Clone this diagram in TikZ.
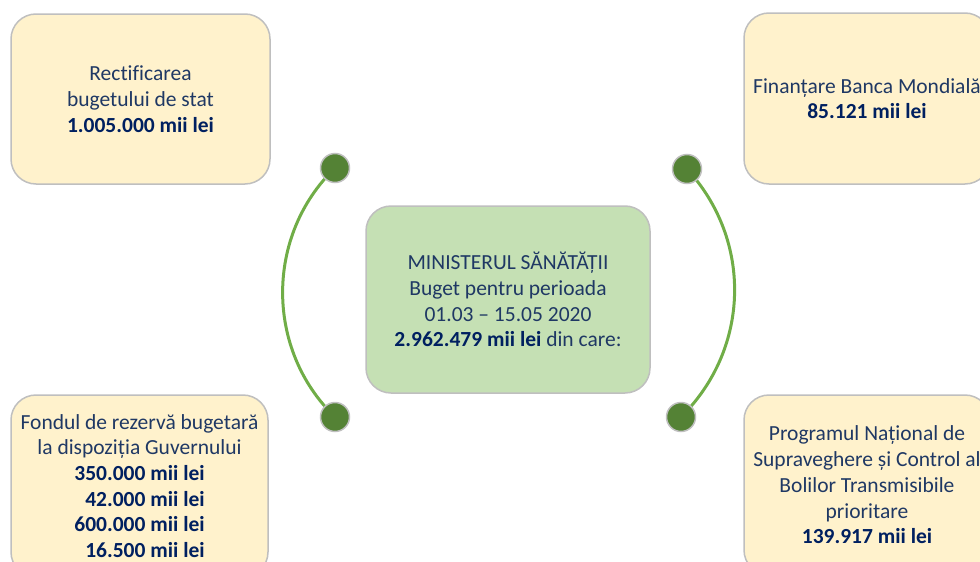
\documentclass[tikz,border=0pt]{standalone}
\usepackage{fontspec}
\setmainfont{Carlito}[Ligatures={NoCommon}]
\usetikzlibrary{backgrounds}
\definecolor{boxfill}{HTML}{FFF2CC}
\definecolor{boxline}{HTML}{BFBFBF}
\definecolor{minfill}{HTML}{C5E0B4}
\definecolor{dotfill}{HTML}{548235}
\definecolor{arcline}{HTML}{70AD47}
\definecolor{txt}{HTML}{1F3864}
\definecolor{num}{HTML}{002060}
\newcommand{\amt}[1]{\textbf{\color{num}#1 mii lei}}
\tikzset{
  item/.style={draw=boxline, line width=1.5pt, fill=boxfill, rounded corners=25pt,
    align=center, text=txt, font=\fontsize{21.5}{25.7}\selectfont, inner sep=0pt},
  dot/.style={circle, draw=boxline, line width=1.5pt, fill=dotfill, minimum size=29pt, inner sep=0pt},
  link/.style={draw=arcline, line width=3pt}
}
\begin{document}
\begin{tikzpicture}[x=1pt,y=1pt]
  \useasboundingbox (0,0) rectangle (980,-562);
  \clip (0,0) rectangle (980,-562);
  % boxes
  \node[item, minimum width=259pt, minimum height=170pt] (rect) at (140.5,-99)
    {Rectificarea\\bugetului de stat\\\amt{1.005.000}};
  \node[item, minimum width=246pt, minimum height=171pt] (banca) at (867,-98.5)
    {Finanțare Banca Mondială\\\amt{85.121}};
  \node[item, fill=minfill, minimum width=284pt, minimum height=187pt] (min) at (508,-299.5)
    {MINISTERUL SĂNĂTĂȚII\\Buget pentru perioada\\01.03 – 15.05 2020\\\amt{2.962.479} din care:};
  \node[item, minimum width=257pt, minimum height=182pt] (fond) at (139.5,-486)
    {Fondul de rezervă bugetară\\la dispoziția Guvernului\\\amt{350.000}\\\hphantom{0}\amt{42.000}\\\amt{600.000}\\\hphantom{0}\amt{16.500}};
  \node[item, minimum width=246pt, minimum height=180pt] (prog) at (867,-485)
    {Programul Național de\\Supraveghere și Control al\\Bolilor Transmisibile\\prioritare\\\amt{139.917}};
  % dots
  \node[dot] (lt) at (335,-168) {};
  \node[dot] (lb) at (335,-417) {};
  \node[dot] (rt) at (687,-169) {};
  \node[dot] (rb) at (681,-417) {};
  \begin{scope}[on background layer]
    \draw[link] (lt.center) to[bend right=46] (lb.center);
    \draw[link] (rt.center) to[bend left=44] (rb.center);
  \end{scope}
\end{tikzpicture}
\end{document}
